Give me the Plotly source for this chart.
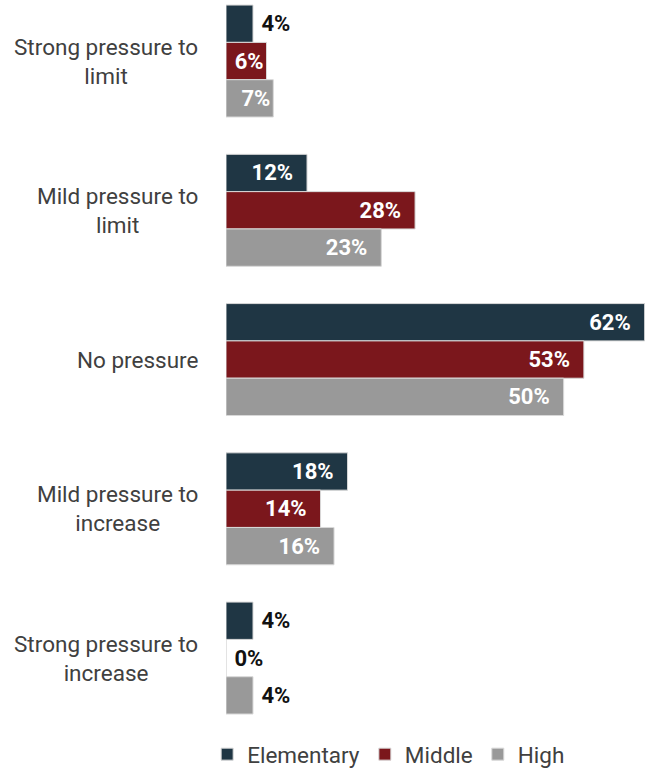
import plotly.graph_objects as go

categories = ["Strong pressure to<br>limit", "Mild pressure to<br>limit", "No pressure",
              "Mild pressure to<br>increase", "Strong pressure to<br>increase"]
series_names = ["Elementary", "Middle", "High"]
elementary = [4, 12, 62, 18, 4]
middle = [6, 28, 53, 14, 0]
high = [7, 23, 50, 16, 4]
colors = ["#1f3644", "#7b171c", "#999999"]

W, H = 645, 776
ml, mr, mt, mb = 226, 0, 0, 41
FONT = "Roboto, sans-serif"


def label(v):
    if v < 6:
        return f"\u00a0{v}%"
    if v < 10:
        return f"{v}%"
    return f"{v}%\u00a0\u00a0"


fig = go.Figure()
ypos = list(range(len(categories)))
for name, vals, col in zip(series_names, [elementary, middle, high], colors):
    fig.add_trace(go.Bar(
        name=name, y=ypos, x=vals, orientation="h",
        marker=dict(color=col, line=dict(color="#d9d9d9", width=1)),
        text=[label(v) for v in vals],
        textposition=["inside" if v >= 6 else "outside" for v in vals],
        insidetextanchor="end",
        insidetextfont=dict(color="white", size=22, family=FONT, weight="bold"),
        outsidetextfont=dict(color="#111111", size=22, family=FONT, weight="bold"),
        constraintext="none", cliponaxis=False,
        hoverinfo="skip",
    ))

for i, c in enumerate(categories):
    fig.add_annotation(x=0, xref="paper", y=i, yref="y", text=c, showarrow=False,
                       xanchor="right", xshift=-26, align="center",
                       font=dict(family=FONT, size=22.5, color="#404040"))

fig.update_layout(
    width=W, height=H, margin=dict(l=ml, r=mr, t=mt, b=mb),
    barmode="group", bargap=0.25, bargroupgap=0,
    plot_bgcolor="white", paper_bgcolor="white",
    xaxis=dict(range=[0, 62.05], visible=False, fixedrange=True),
    yaxis=dict(range=[4.482, -0.409], showticklabels=False, showgrid=False,
               zeroline=False, fixedrange=True),
    legend=dict(orientation="h", x=-0.045, xanchor="left", y=-0.034, yanchor="middle",
                font=dict(family=FONT, size=22.5, color="#404040"),
                itemwidth=30, traceorder="normal"),
    font=dict(family=FONT),
)

fig.write_html("out.html")
